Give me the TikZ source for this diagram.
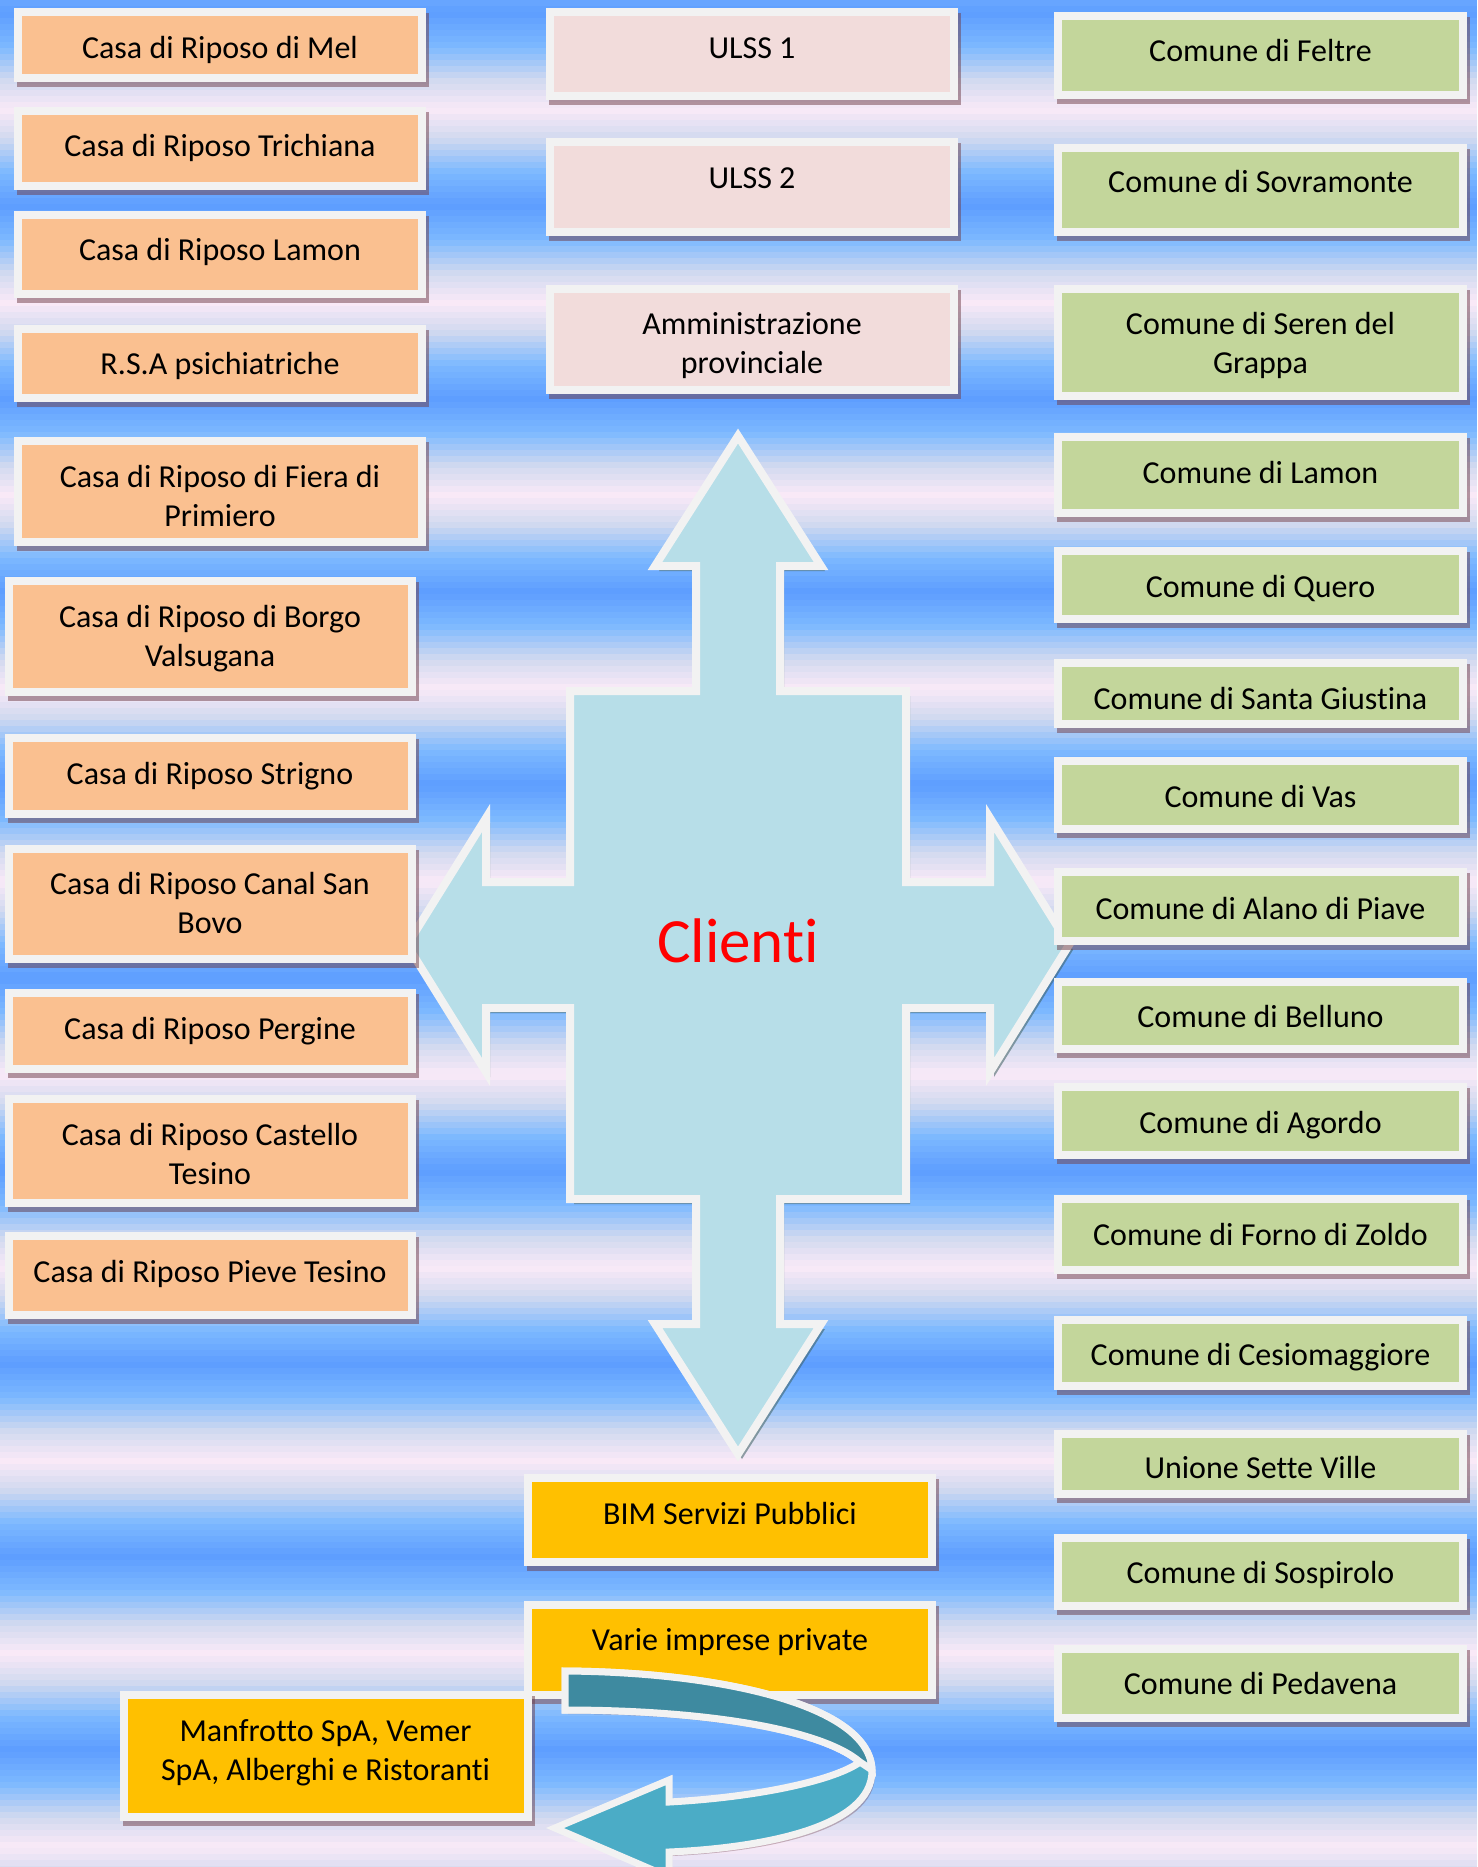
\documentclass[tikz,border=0pt]{standalone}
\usepackage{fontspec}
\setmainfont{Carlito}[Ligatures={NoCommon}]
\definecolor{bord}{RGB}{242,242,242}
\definecolor{orangef}{RGB}{250,192,144}
\definecolor{pinkf}{RGB}{242,220,219}
\definecolor{greenf}{RGB}{195,214,155}
\definecolor{goldf}{RGB}{255,192,0}
\definecolor{arrowf}{RGB}{183,222,232}
\definecolor{shc}{RGB}{110,60,70}
\definecolor{ashc}{RGB}{60,95,95}
\definecolor{tealdark}{RGB}{62,138,160}
\definecolor{teallight}{RGB}{75,172,198}
\definecolor{cred}{RGB}{255,0,0}
\newcommand\cbox[6]{%
  \fill[shc,opacity=.5] (#3+3,#4+5) rectangle (#5+3,#6+5);
  \pgfmathsetmacro\mybw{(#5-#3-8)*0.5}%
  \pgfmathsetmacro\mybh{(#6-#4-8)*0.5}%
  \node[box, fill=#2, minimum width=\mybw pt, minimum height=\mybh pt] (#1) at ({(#3+#5)/2},{(#4+#6)/2}) {};%
}
\newcommand\ctext[4]{\node[txt] (#1) at (#2,#3) {#4};}
\begin{document}
\begin{tikzpicture}[x=0.5pt,y=-0.5pt,
  box/.style={draw=bord, line width=4pt, inner sep=0pt, outer sep=0pt},
  txt/.style={font=\fontsize{16}{19.5}\selectfont, align=center, inner sep=0pt, text=black, yshift=-1.3pt,
    execute at begin node=\strut, execute at end node=\strut}]
\useasboundingbox (0,0) rectangle (1477,1867);
\clip (0,0) rectangle (1477,1867);
% background stripes
\foreach \i in {0,...,311}{
  \pgfmathsetmacro\myyc{\i*6+3}
  \pgfmathsetmacro\myph{mod(\myyc+1930-13,193)/193}
  \pgfmathsetmacro\mytv{1-abs(1-2*\myph)}
  \pgfmathtruncatemacro\cR{\mytv<0.35 ? 94+\mytv/0.35*31 : (\mytv<0.7 ? 125+(\mytv-0.35)/0.35*85 : 210+(\mytv-0.7)/0.3*40)}
  \pgfmathtruncatemacro\cG{\mytv<0.35 ? 158+\mytv/0.35*27 : (\mytv<0.7 ? 185+(\mytv-0.35)/0.35*33 : 218+(\mytv-0.7)/0.3*16)}
  \pgfmathtruncatemacro\cB{\mytv<0.35 ? 255 : (\mytv<0.7 ? 255-(\mytv-0.35)/0.35*15 : 240+(\mytv-0.7)/0.3*8)}
  \definecolor{bgc}{RGB}{\cR,\cG,\cB}
  \fill[bgc] (0,\i*6) rectangle (1477,\i*6+7);
}
% big four-way arrow
\begin{scope}[shift={(742,950)}]
\fill[ashc,opacity=.55] (0,-509) -- (83,-379) -- (42,-379) -- (42,-254) -- (168,-254) -- (168,-63) -- (252,-63) -- (252,-127) -- (331,0) -- (252,127) -- (252,63) -- (168,63) -- (168,254) -- (42,254) -- (42,379) -- (83,379) -- (0,509) -- (-83,379) -- (-42,379) -- (-42,254) -- (-168,254) -- (-168,63) -- (-252,63) -- (-252,127) -- (-331,0) -- (-252,-127) -- (-252,-63) -- (-168,-63) -- (-168,-254) -- (-42,-254) -- (-42,-379) -- (-83,-379) -- cycle;
\end{scope}
\begin{scope}[shift={(738,945)}]
\draw[draw=bord, fill=arrowf, line width=4pt] (0,-509) -- (83,-379) -- (42,-379) -- (42,-254) -- (168,-254) -- (168,-63) -- (252,-63) -- (252,-127) -- (331,0) -- (252,127) -- (252,63) -- (168,63) -- (168,254) -- (42,254) -- (42,379) -- (83,379) -- (0,509) -- (-83,379) -- (-42,379) -- (-42,254) -- (-168,254) -- (-168,63) -- (-252,63) -- (-252,127) -- (-331,0) -- (-252,-127) -- (-252,-63) -- (-168,-63) -- (-168,-254) -- (-42,-254) -- (-42,-379) -- (-83,-379) -- cycle;
\end{scope}
\node[font=\fontsize{31.5}{38}\selectfont, text=cred, anchor=base, inner sep=0pt] (clienti) at (738,962) {Clienti};
% left column
\cbox{l1}{orangef}{14}{8}{426}{82}
\cbox{l2}{orangef}{14}{107}{426}{190}
\cbox{l3}{orangef}{14}{211}{426}{298}
\cbox{l4}{orangef}{14}{325}{426}{402}
\cbox{l5}{orangef}{14}{437}{426}{546}
\cbox{l6}{orangef}{5}{577}{416}{696}
\cbox{l7}{orangef}{5}{734}{416}{818}
\cbox{l8}{orangef}{5}{845}{416}{963}
\cbox{l9}{orangef}{5}{989}{416}{1073}
\cbox{l10}{orangef}{5}{1095}{416}{1207}
\cbox{l11}{orangef}{5}{1232}{416}{1319}
% middle column
\cbox{m1}{pinkf}{546}{8}{958}{100}
\cbox{m2}{pinkf}{546}{138}{958}{236}
\cbox{m3}{pinkf}{546}{285}{958}{394}
\cbox{g1}{goldf}{524}{1474}{936}{1566}
\cbox{g2}{goldf}{524}{1601}{936}{1699}
\cbox{g3}{goldf}{120}{1691}{532}{1821}
% right column
\cbox{r1}{greenf}{1054}{12}{1467}{99}
\cbox{r2}{greenf}{1054}{144}{1467}{236}
\cbox{r3}{greenf}{1054}{285}{1467}{400}
\cbox{r4}{greenf}{1054}{433}{1467}{517}
\cbox{r5}{greenf}{1054}{547}{1467}{623}
\cbox{r6}{greenf}{1054}{659}{1467}{728}
\cbox{r7}{greenf}{1054}{757}{1467}{833}
\cbox{r8}{greenf}{1054}{868}{1467}{945}
\cbox{r9}{greenf}{1054}{978}{1467}{1053}
\cbox{r10}{greenf}{1054}{1083}{1467}{1159}
\cbox{r11}{greenf}{1054}{1195}{1467}{1274}
\cbox{r12}{greenf}{1054}{1316}{1467}{1390}
\cbox{r13}{greenf}{1054}{1430}{1467}{1498}
\cbox{r14}{greenf}{1054}{1534}{1467}{1610}
\cbox{r15}{greenf}{1054}{1645}{1467}{1722}
% texts
\ctext{l1t}{220}{48.5}{Casa di Riposo di Mel}
\ctext{l2t}{220}{146.5}{Casa di Riposo Trichiana}
\ctext{l3t}{220}{250}{Casa di Riposo Lamon}
\ctext{l4t}{220}{364.5}{R.S.A psichiatriche}
\ctext{l5t}{220}{499}{Casa di Riposo di Fiera di\\Primiero}
\ctext{l6t}{210}{639}{Casa di Riposo di Borgo\\Valsugana}
\ctext{l7t}{210}{774.5}{Casa di Riposo Strigno}
\ctext{l8t}{210}{906}{Casa di Riposo Canal San\\Bovo}
\ctext{l9t}{210}{1029.5}{Casa di Riposo Pergine}
\ctext{l10t}{210}{1157}{Casa di Riposo Castello\\Tesino}
\ctext{l11t}{210}{1272.5}{Casa di Riposo Pieve Tesino}
\ctext{m1t}{752}{48}{ULSS 1}
\ctext{m2t}{752}{178}{ULSS 2}
\ctext{m3t}{752}{346.5}{Amministrazione\\provinciale}
\ctext{g1t}{730}{1514}{BIM Servizi Pubblici}
\ctext{g2t}{730}{1640.5}{Varie imprese private}
\ctext{g3t}{325.5}{1753}{Manfrotto SpA, Vemer\\SpA, Alberghi e Ristoranti}
\ctext{r1t}{1260.5}{51.5}{Comune di Feltre}
\ctext{r2t}{1260.5}{182.5}{Comune di Sovramonte}
\ctext{r3t}{1260.5}{346.5}{Comune di Seren del\\Grappa}
\ctext{r4t}{1260.5}{473}{Comune di Lamon}
\ctext{r5t}{1260.5}{587}{Comune di Quero}
\ctext{r6t}{1260.5}{699}{Comune di Santa Giustina}
\ctext{r7t}{1260.5}{797.5}{Comune di Vas}
\ctext{r8t}{1260.5}{909.5}{Comune di Alano di Piave}
\ctext{r9t}{1260.5}{1017.5}{Comune di Belluno}
\ctext{r10t}{1260.5}{1123.5}{Comune di Agordo}
\ctext{r11t}{1260.5}{1235}{Comune di Forno di Zoldo}
\ctext{r12t}{1260.5}{1355.5}{Comune di Cesiomaggiore}
\ctext{r13t}{1260.5}{1468.5}{Unione Sette Ville}
\ctext{r14t}{1260.5}{1573.5}{Comune di Sospirolo}
\ctext{r15t}{1260.5}{1684.5}{Comune di Pedavena}
% curved arrow
\begin{scope}[shift={(3,4)}]
\fill[shc,opacity=.35] (565,1671) .. controls (720,1672) and (870,1705) .. (872,1770) .. controls (873,1828) and (760,1848) .. (669,1852) -- (669,1877) -- (555,1828) -- (669,1780) -- (669,1802) .. controls (760,1797) and (835,1780) .. (860,1762) .. controls (820,1728) and (700,1710) .. (565,1710) -- cycle;
\end{scope}
\draw[draw=bord, fill=teallight, line width=3.5pt, miter limit=4] (565,1671) .. controls (720,1672) and (870,1705) .. (872,1770) .. controls (873,1828) and (760,1848) .. (669,1852) -- (669,1877) -- (555,1828) -- (669,1780) -- (669,1802) .. controls (760,1797) and (835,1780) .. (860,1762) .. controls (820,1728) and (700,1710) .. (565,1710) -- cycle;
\draw[draw=bord, fill=tealdark, line width=3.5pt, miter limit=4] (565,1671) .. controls (720,1672) and (870,1705) .. (872,1770) -- (860,1762) .. controls (820,1728) and (700,1710) .. (565,1710) -- cycle;
\end{tikzpicture}
\end{document}
